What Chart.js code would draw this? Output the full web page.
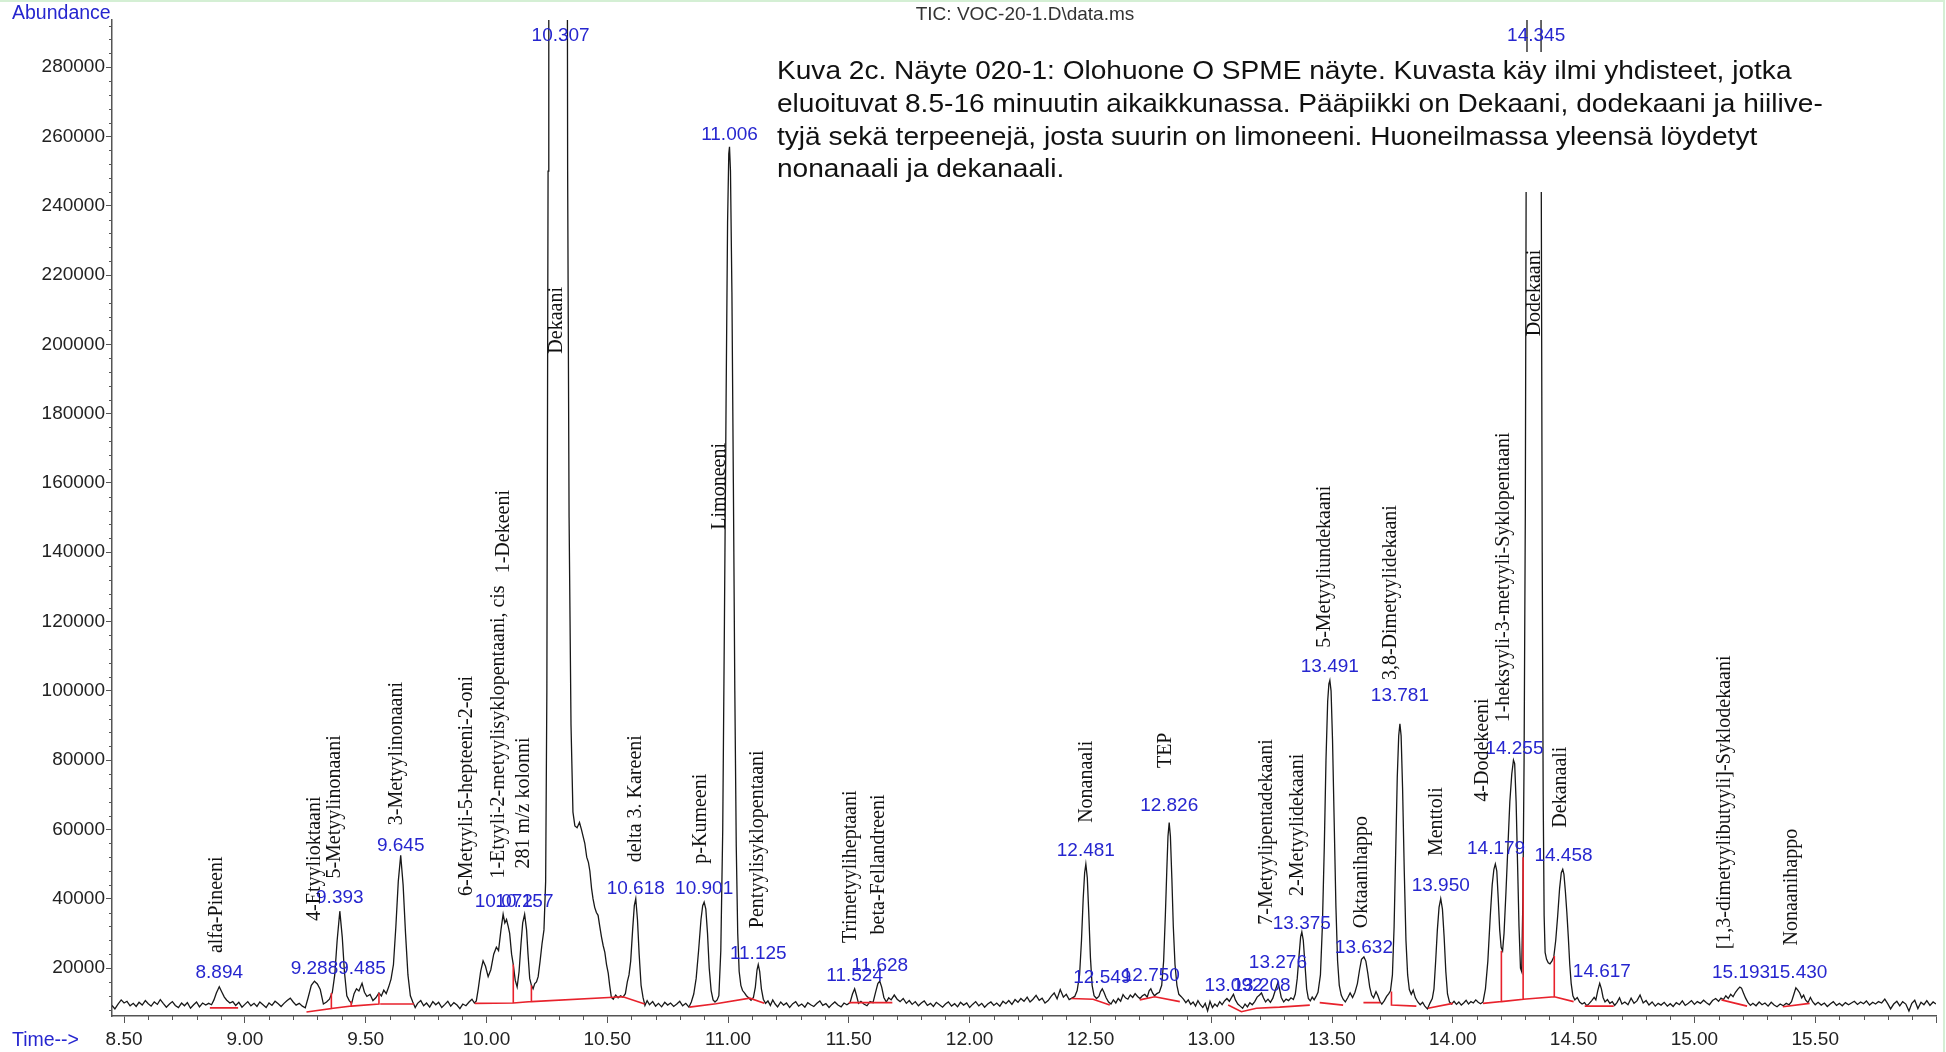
<!DOCTYPE html>
<html>
<head>
<meta charset="utf-8">
<script src="https://cdn.jsdelivr.net/npm/chart.js@4.4.1/dist/chart.umd.min.js"></script>
<style>
html, body { margin: 0; padding: 0; background: #fff; }
canvas { display: block; }
</style>
</head>
<body>
<canvas id="tic" width="1946" height="1052"></canvas>
<script>
// TIC trace, [time (min), abundance]
const tic_0845 = [
  [8.450,9200],[8.462,8200],[8.475,9600],[8.488,10800],[8.500,9900],[8.512,10400],[8.525,9100],[8.538,9800],
  [8.550,8900],[8.562,10100],[8.575,9300],[8.588,10600],[8.600,9700],[8.612,9000],[8.625,10200],[8.638,9500],
  [8.650,10900],[8.662,9800],[8.675,8700],[8.688,9600],[8.700,10300],[8.712,9200],[8.725,8600],[8.738,9900],
  [8.750,9100],[8.762,10000],[8.775,8400],[8.788,9400],[8.800,10200],[8.812,8800],[8.825,9900],[8.838,9300],
  [8.850,9800],[8.862,9400],[8.872,10800],[8.882,12800],[8.894,14600],[8.905,13000],[8.915,11600],[8.925,10700],
  [8.938,9900],[8.950,10300],[8.962,9200],[8.975,10100],[8.988,8700],[9.000,9500],[9.012,10300],[9.025,9100],
  [9.038,9800],[9.050,8900],[9.062,10200],[9.075,9400],[9.088,8600],[9.100,9900],[9.112,9200],[9.125,10400],
  [9.138,9700],[9.150,8900],[9.162,9800],[9.175,10600],[9.188,11300],[9.200,10200],[9.212,9300],[9.225,9800],
  [9.238,9000],[9.250,8500],[9.262,11500],[9.275,15000],[9.288,16200],[9.300,15400],[9.312,13800],[9.325,9600],
  [9.338,10200],[9.350,11000],[9.362,13000],[9.372,18000],[9.382,28000],[9.393,36400],[9.403,29000],[9.412,19000],
  [9.422,12000],[9.432,10600],[9.442,9800],[9.452,12600],[9.462,14000],[9.472,13400],[9.485,15600],[9.495,13000],
  [9.505,11800],[9.518,12400],[9.530,10600],[9.542,11400],[9.555,12800],[9.565,11900],[9.575,13600],[9.585,12600],
  [9.595,14500],[9.605,16800],[9.615,21000],[9.625,32000],[9.635,45000],[9.645,52500],[9.655,44000],[9.665,30000],
  [9.675,18000],[9.685,12000],[9.695,10200],[9.705,8600],[9.715,9800],[9.728,10600],[9.740,9100],[9.752,9900],
  [9.765,8700],[9.778,10300],[9.790,9400],[9.802,10100],[9.815,8600],[9.828,9500],[9.840,10400],[9.852,9000],
  [9.865,10000],[9.878,9300],[9.890,8300],[9.902,9600],[9.915,9100],[9.928,10200],[9.940,11000]
];
const tic_0950 = [
  [9.950,9900],[9.958,10500],[9.966,14000],[9.976,19000],[9.986,22100],[9.996,20500],[10.007,17500],[10.018,19500],
  [10.030,24000],[10.041,26000],[10.050,25000],[10.060,31000],[10.069,35500],[10.076,33000],[10.083,34000],[10.090,32000],
  [10.096,30000],[10.104,24000],[10.111,21000],[10.119,16500],[10.127,14500],[10.135,19000],[10.143,27000],[10.150,33000],
  [10.158,35500],[10.166,31000],[10.172,24000],[10.179,17000],[10.186,15000],[10.193,14000],[10.200,15500],[10.207,16000],
  [10.214,17500],[10.222,22000],[10.230,27000],[10.238,31000],[10.245,45000],[10.250,100000],[10.255,250000],[10.258,450000],
  [10.332,450000],[10.336,250000],[10.342,150000],[10.350,90000],[10.358,65000],[10.366,61000],[10.375,60500],[10.385,62000],
  [10.393,60000],[10.400,58000],[10.407,56000],[10.415,52000],[10.422,50500],[10.428,48000],[10.435,43000],[10.441,40000],
  [10.448,37500],[10.455,36000],[10.462,35200],[10.469,32000],[10.476,29000],[10.483,26500],[10.490,24500],[10.497,21000],
  [10.504,18500],[10.510,15000],[10.517,11500],[10.525,11000],[10.535,12200],[10.545,11400],[10.555,12000],[10.565,11600],
  [10.575,12600],[10.583,16000],[10.590,18000],[10.597,22000],[10.605,31000],[10.612,38000],[10.618,40000],[10.625,34000],
  [10.632,24000],[10.640,15000],[10.648,11500],[10.656,9200],[10.665,10600],[10.675,9400],[10.688,10300]
];
const tic_1070 = [
  [10.700,9000],[10.712,9800],[10.725,8800],[10.738,10100],[10.750,9300],[10.762,9900],[10.775,8900],[10.788,9600],
  [10.800,10400],[10.812,9100],[10.825,9800],[10.838,8700],[10.848,10200],[10.858,12500],[10.868,17000],[10.878,25000],
  [10.888,34000],[10.895,38000],[10.901,39000],[10.908,37000],[10.915,30000],[10.922,20000],[10.930,13500],[10.938,10800],
  [10.946,10200],[10.955,10800],[10.962,12000],[10.970,25000],[10.978,60000],[10.985,120000],[10.992,185000],[10.998,235000],
  [11.003,255000],[11.006,257000],[11.010,250000],[11.016,215000],[11.022,160000],[11.028,100000],[11.034,55000],[11.040,30000],
  [11.046,19000],[11.053,15000],[11.060,13500],[11.068,12800],[11.076,12000],[11.085,11400],[11.095,10700],[11.105,11500],
  [11.113,14500],[11.120,19500],[11.125,21000],[11.131,19000],[11.138,14000],[11.146,11000],[11.155,9800],[11.165,10500],
  [11.175,9200],[11.185,10800],[11.195,9600],[11.205,8800],[11.218,10200],[11.230,9300],[11.242,9900],[11.255,8600],
  [11.268,9700],[11.280,10300],[11.292,9000],[11.305,9600],[11.318,8700],[11.330,10000],[11.342,9400],[11.355,8900],
  [11.368,9800],[11.380,10500],[11.392,9200],[11.405,9700],[11.418,8600],[11.430,9500],[11.442,10200],[11.455,9300],
  [11.468,8800],[11.480,9900],[11.492,9400],[11.505,10000],[11.515,12500],[11.524,14000],[11.532,12000],[11.540,9800],
  [11.550,10400],[11.562,9600],[11.575,9100],[11.588,10300],[11.600,10000],[11.610,12800],[11.620,15500],[11.628,16200],
  [11.636,14500],[11.645,11500],[11.655,10200],[11.665,11400],[11.675,10800],[11.688,12200],[11.700,11000],[11.712,10300],
  [11.725,11200],[11.738,9800],[11.750,10600],[11.762,9500],[11.775,10300],[11.788,9100],[11.800,9900],[11.812,10500],
  [11.825,9200],[11.838,9800],[11.850,8900],[11.862,10100],[11.875,9400],[11.888,8700],[11.900,9600],[11.912,10200],
  [11.925,9000],[11.938,9700],[11.950,8800],[11.962,10100],[11.975,9300],[11.988,9900]
];
const tic_1200 = [
  [12.000,8600],[12.012,9500],[12.025,10300],[12.038,9100],[12.050,9800],[12.062,8700],[12.075,9600],[12.088,10200],
  [12.100,9200],[12.112,9900],[12.125,9000],[12.138,10400],[12.150,9700],[12.162,10600],[12.175,9500],[12.188,10900],
  [12.200,10100],[12.212,11200],[12.225,10400],[12.238,11600],[12.250,10200],[12.262,11000],[12.275,12100],[12.288,10700],
  [12.300,11300],[12.312,9900],[12.325,10600],[12.338,11900],[12.350,12800],[12.362,11100],[12.375,13800],[12.388,11600],
  [12.400,12400],[12.412,10900],[12.425,11400],[12.435,11800],[12.445,13500],[12.455,18000],[12.463,28000],[12.470,40000],
  [12.476,47500],[12.481,50000],[12.487,46000],[12.493,36000],[12.500,23000],[12.507,15000],[12.515,12000],[12.525,11200],
  [12.535,11800],[12.542,13200],[12.549,14000],[12.556,13000],[12.565,11400],[12.575,10200],[12.585,9600],[12.595,10800],
  [12.605,9900],[12.615,11200],[12.625,10400],[12.635,12300],[12.645,11400],[12.655,11000],[12.665,12200],[12.675,11500],
  [12.685,12600],[12.695,11800],[12.705,11200],[12.715,12000],[12.725,12400],[12.735,11600],[12.743,13400],[12.750,14000],
  [12.757,12800],[12.765,12000],[12.775,12600],[12.785,13000],[12.795,15000],[12.803,22000],[12.810,35000],[12.816,48000],
  [12.821,58000],[12.826,62000],[12.831,58000],[12.837,46000],[12.843,32000],[12.850,21000],[12.858,15000],[12.866,12400],
  [12.875,11800],[12.885,11000],[12.895,10000],[12.905,10800],[12.915,9500],[12.925,10200],[12.935,9000],[12.945,10600],
  [12.955,9400],[12.965,8600],[12.975,9800],[12.985,7600],[12.995,10400],[13.005,8600],[13.015,9600],[13.025,8900],
  [13.035,10300],[13.045,9400],[13.055,10500],[13.065,11200],[13.075,10400],[13.085,11600],[13.092,12400],[13.100,10800],
  [13.110,9600],[13.120,9000],[13.130,8400],[13.140,9600],[13.150,8800],[13.160,10000],[13.170,9400],[13.180,10300],
  [13.190,11600],[13.200,12200],[13.208,12800],[13.216,11400],[13.225,10200],[13.235,11000],[13.245,10100],[13.255,11300],
  [13.265,13500],[13.272,15000],[13.276,15800],[13.282,14200],[13.290,11500],[13.300,10200],[13.310,11000],[13.320,10600],
  [13.330,11400]
];
const tic_1340 = [
  [13.340,10900],[13.348,12500],[13.356,17000],[13.364,24000],[13.370,29000],[13.375,30400],[13.381,28000],[13.388,21000],
  [13.395,14000],[13.402,11200],[13.410,10500],[13.418,11600],[13.426,10800],[13.434,11800],[13.442,13000],[13.452,18000],
  [13.460,32000],[13.468,55000],[13.475,80000],[13.482,97000],[13.487,102000],[13.491,103000],[13.496,100000],[13.502,86000],
  [13.509,62000],[13.516,38000],[13.523,22000],[13.530,15000],[13.538,12200],[13.546,11000],[13.555,10200],[13.565,11400],
  [13.575,12800],[13.585,11500],[13.595,13000],[13.605,15500],[13.614,19500],[13.622,22500],[13.632,23200],[13.640,22000],
  [13.648,18500],[13.656,14500],[13.664,12200],[13.672,11400],[13.682,13200],[13.690,12000],[13.698,10400],[13.706,9600],
  [13.716,10500],[13.726,11800],[13.735,12600],[13.742,13400],[13.750,18000],[13.757,32000],[13.764,55000],[13.770,75000],
  [13.776,87000],[13.781,90500],[13.786,87000],[13.792,72000],[13.799,48000],[13.806,28000],[13.813,18000],[13.820,13800],
  [13.828,12400],[13.836,13600],[13.845,11400],[13.855,10200],[13.865,9400],[13.875,10100],[13.885,8900],[13.895,8200],
  [13.905,9800],[13.915,11200],[13.922,14000],[13.929,22000],[13.936,31000],[13.943,37500],[13.950,40000],[13.957,37000],
  [13.964,29000],[13.971,19000],[13.978,12500],[13.986,10200],[13.995,9600],[14.005,10400],[14.015,9500],[14.025,10200],
  [14.035,9300],[14.045,9900],[14.055,10700],[14.065,9600],[14.075,10300],[14.085,9900],[14.095,10800],[14.105,10100],
  [14.115,9700],[14.125,10200],[14.135,14000],[14.145,22000],[14.155,35000],[14.163,44000],[14.170,48500],[14.176,50000],
  [14.182,48000],[14.188,40000],[14.194,31000],[14.200,26000],[14.206,25000],[14.212,30000],[14.220,42000],[14.228,55000],
  [14.236,68000],[14.244,76000],[14.251,80000],[14.256,79000],[14.262,68000],[14.268,50000],[14.274,32000],[14.280,20000],
  [14.285,19000],[14.290,40000],[14.295,80000],[14.300,150000],[14.304,260000],[14.307,450000],
  [14.362,450000],[14.366,250000],[14.370,140000],[14.374,70000],[14.378,35000],[14.382,24500],[14.388,22500],[14.395,21500],
  [14.402,21200],[14.410,22000],[14.418,23200],[14.426,28000],[14.434,35000],[14.442,43000],[14.449,47500],[14.455,48500],
  [14.460,47000],[14.466,42000],[14.472,36000],[14.478,29000],[14.484,21000],[14.490,15500],[14.497,12000]
];
const tic_1450 = [
  [14.505,10800],[14.515,11500],[14.525,10200],[14.535,9600],[14.545,10000],[14.555,9100],[14.565,9800],[14.575,10600],
  [14.585,11500],[14.592,10800],[14.600,13500],[14.608,15600],[14.615,14000],[14.622,11500],[14.630,10200],[14.640,10900],
  [14.650,9800],[14.660,10300],[14.670,9200],[14.680,10100],[14.690,11400],[14.700,9600],[14.712,10200],[14.725,9400],
  [14.738,11300],[14.750,9800],[14.762,10500],[14.775,12200],[14.788,9900],[14.800,10600],[14.812,9300],[14.825,10200],
  [14.838,9000],[14.850,9800],[14.862,9300],[14.875,10100],[14.888,9000],[14.900,9700],[14.912,8900],[14.925,10000],
  [14.938,9400],[14.950,10500],[14.962,9200],[14.975,9800],[14.988,10600],[15.000,9500],[15.012,10300],[15.025,9800],
  [15.038,10700],[15.050,10000],[15.062,9400],[15.075,10600],[15.088,11200],[15.100,10400],[15.110,11300],[15.120,10900],
  [15.130,12000],[15.140,11200],[15.150,12400],[15.160,11700],[15.170,13000],[15.180,13900],[15.188,14500],[15.195,14200],
  [15.203,12800],[15.212,11300],[15.222,10000],[15.232,9200],[15.242,9800],[15.255,9100],[15.268,10200],[15.280,9400],
  [15.292,9900],[15.305,9000],[15.318,10100],[15.330,9300],[15.342,8800],[15.355,9600],[15.368,9100],[15.380,9800],
  [15.392,9400],[15.402,10300],[15.412,12500],[15.420,14300],[15.428,13600],[15.436,12800],[15.444,11400],[15.452,12200],
  [15.460,10800],[15.470,10000],[15.480,11500],[15.490,10200],[15.500,9400],[15.512,10100],[15.525,9300],[15.538,9900],
  [15.550,8900],[15.562,9600],[15.575,10300],[15.588,9200],[15.600,9800],[15.612,9100],[15.625,10000],[15.638,9400],
  [15.650,9900],[15.662,10400],[15.675,9500],[15.688,10200],[15.700,9700],[15.712,10500],[15.725,9300],[15.738,10100],
  [15.750,9600],[15.762,10300],[15.775,9900],[15.788,11000],[15.800,9700],[15.812,8200],[15.825,9600],[15.838,10400],
  [15.850,9100],[15.862,10300],[15.875,9600],[15.888,7600],[15.900,9800],[15.912,10700],[15.925,8300],[15.938,10100],
  [15.950,9400],[15.962,10600],[15.975,9200],[15.988,10200],[16.000,9600]
];

// red integration baselines and drop lines, [time, abundance]; null breaks the line
const baselineMarks = [
  [8.855,8500],[8.972,8500],[8.972,null],
  [9.255,7300],[9.358,8300],[9.358,12800],[9.358,null],
  [9.358,8300],[9.440,9000],[9.440,10400],[9.440,null],
  [9.440,9000],[9.555,9600],[9.555,12800],[9.555,null],
  [9.560,9600],[9.700,9600],[9.700,null],
  [9.952,9800],[10.111,9900],[10.111,21000],[10.111,null],
  [10.111,9900],[10.186,10300],[10.186,15000],[10.186,null],
  [10.186,10300],[10.565,11700],[10.655,9600],[10.655,null],
  [10.840,8700],[10.950,9700],[11.090,11300],[11.150,9800],[11.150,null],
  [11.500,10000],[11.680,10000],[11.680,null],
  [12.421,11200],[12.511,11000],[12.580,9300],[12.580,null],
  [12.704,10800],[12.766,11700],[12.870,10300],[12.870,null],
  [13.070,9300],[13.125,7400],[13.187,8400],[13.283,8700],[13.408,9300],[13.408,null],
  [13.449,10000],[13.546,9300],[13.546,null],
  [13.630,10000],[13.700,10000],[13.700,null],
  [13.746,13200],[13.746,9300],[13.849,9000],[13.849,null],
  [13.897,8400],[14.000,9800],[14.000,null],
  [14.125,9800],[14.201,10300],[14.201,25000],[14.201,null],
  [14.201,10300],[14.291,11000],[14.291,52000],[14.291,null],
  [14.291,11000],[14.420,11700],[14.420,23500],[14.420,null],
  [14.420,11700],[14.500,10300],[14.500,null],
  [14.546,9000],[14.666,9000],[14.666,null],
  [15.112,10800],[15.218,9000],[15.218,null],
  [15.366,8800],[15.477,9800]
];

// axis tick labels
const yTicks = [20000,40000,60000,80000,100000,120000,140000,160000,180000,200000,220000,240000,260000,280000];
const xTicks = [8.5,9.0,9.5,10.0,10.5,11.0,11.5,12.0,12.5,13.0,13.5,14.0,14.5,15.0,15.5,16.0];

// retention time labels and the abundance they sit at
const rtLabels = ['8.894','9.288','9.393','9.485','9.645','10.072','10.157','10.307','10.618','10.901','11.006','11.125',
  '11.524','11.628','12.481','12.549','12.750','12.826','13.092','13.208','13.276','13.375','13.491','13.632','13.781',
  '13.950','14.179','14.255','14.345','14.458','14.617','15.193','15.430'];
const rtLabelLevel = [18600,19700,40400,19700,55400,39000,39000,289000,42900,42900,260400,24000,
  17900,20700,53700,17200,17900,66900,15000,15000,21500,32900,107000,25800,98700,
  43600,54400,83400,289000,52300,19000,18600,18600];

// compound names, their time and the abundance where the rotated text starts
const compounds = ['alfa-Pineeni','4-Etyylioktaani','5-Metyylinonaani','3-Metyylinonaani','6-Metyyli-5-hepteeni-2-oni',
  '1-Etyyli-2-metyylisyklopentaani, cis','1-Dekeeni','281 m/z kolonni','Dekaani','delta 3. Kareeni','p-Kumeeni',
  'Limoneeni','Pentyylisyklopentaani','Trimetyyliheptaani','beta-Fellandreeni','Nonanaali','TEP',
  '7-Metyylipentadekaani','2-Metyylidekaani','5-Metyyliundekaani','Oktaanihappo','3,8-Dimetyylidekaani','Menttoli',
  '4-Dodekeeni','1-heksyyli-3-metyyli-Syklopentaani','Dodekaani','Dekanaali','[1,3-dimetyylibutyyli]-Syklodekaani',
  'Nonaanihappo'];
const compoundTime = [8.884,9.290,9.372,9.629,9.917,10.050,10.071,10.153,10.292,10.616,10.887,10.964,11.124,11.509,
  11.622,12.484,12.813,13.229,13.357,13.470,13.624,13.743,13.933,14.123,14.210,14.339,14.447,15.125,15.402];
const compoundLevel = [24300,33600,45800,61200,40800,45800,133900,48700,197300,50500,50100,146500,31500,27200,
  29700,61900,77700,32500,40800,112400,31500,103100,52300,68000,90900,202300,60500,25400,26500];

const noteLines = [
  'Kuva 2c. Näyte 020-1: Olohuone O SPME näyte. Kuvasta käy ilmi yhdisteet, jotka',
  'eluoituvat 8.5-16 minuutin aikaikkunassa. Pääpiikki on Dekaani, dodekaani ja hiilive-',
  'tyjä sekä terpeenejä, josta suurin on limoneeni. Huoneilmassa yleensä löydetyt',
  'nonanaali ja dekanaali.'
];

const trace = [].concat(tic_0845, tic_0950, tic_1070, tic_1200, tic_1340, tic_1450);

const SANS = '"Liberation Sans", Arial, sans-serif';
const SERIF = '"Liberation Serif", "Times New Roman", serif';
const BLUE = '#2626cf';

const decor = {
  id: 'decor',
  afterDraw(chart) {
    const ctx = chart.ctx;
    const xs = chart.scales.x, ys = chart.scales.y;
    const area = chart.chartArea;
    ctx.save();

    // minor ticks
    ctx.strokeStyle = '#555';
    ctx.lineWidth = 1;
    ctx.beginPath();
    for (let k = 85; k <= 160; k++) {
      if (k % 5 === 0) continue;
      const px = Math.round(xs.getPixelForValue(k / 10)) + 0.5;
      ctx.moveTo(px, area.bottom);
      ctx.lineTo(px, area.bottom + 4);
    }
    for (let v = 8000; v < 294000; v += 4000) {
      if (v % 20000 === 0) continue;
      const py = Math.round(ys.getPixelForValue(v)) + 0.5;
      ctx.moveTo(area.left, py);
      ctx.lineTo(area.left - 3, py);
    }
    ctx.stroke();

    // axis captions and header
    ctx.fillStyle = BLUE;
    ctx.font = '19.5px ' + SANS;
    ctx.textAlign = 'left';
    ctx.textBaseline = 'middle';
    ctx.fillText('Abundance', 12, 14);
    ctx.fillText('Time-->', 12, 1041);
    ctx.fillStyle = '#333';
    ctx.textAlign = 'center';
    ctx.font = '19px ' + SANS;
    ctx.fillText('TIC: VOC-20-1.D\\data.ms', 1025, 15);

    // caption box over the plot
    ctx.fillStyle = '#fff';
    ctx.fillRect(768, 52, 1070, 140);
    ctx.fillStyle = '#111';
    ctx.textAlign = 'left';
    ctx.font = '26px ' + SANS;
    noteLines.forEach((line, i) => {
      ctx.save();
      ctx.translate(777, 72 + i * 32.7);
      ctx.scale(1.08, 1);
      ctx.fillText(line, 0, 0);
      ctx.restore();
    });

    // retention time labels
    ctx.fillStyle = BLUE;
    ctx.font = '19px ' + SANS;
    ctx.textAlign = 'center';
    rtLabels.forEach((lab, i) => {
      ctx.fillText(lab, xs.getPixelForValue(parseFloat(lab)), ys.getPixelForValue(rtLabelLevel[i]));
    });

    // compound names, rotated
    ctx.fillStyle = '#111';
    ctx.font = '20px ' + SERIF;
    ctx.textAlign = 'left';
    compounds.forEach((name, i) => {
      ctx.save();
      ctx.translate(xs.getPixelForValue(compoundTime[i]), ys.getPixelForValue(compoundLevel[i]));
      ctx.rotate(-Math.PI / 2);
      ctx.fillText(name, 0, 0);
      ctx.restore();
    });

    // faint frame
    ctx.strokeStyle = '#d4efd4';
    ctx.lineWidth = 2;
    ctx.beginPath();
    ctx.moveTo(0, 1);
    ctx.lineTo(1944, 1);
    ctx.lineTo(1944, 1052);
    ctx.stroke();
    ctx.restore();
  }
};

const ctx = document.getElementById('tic').getContext('2d');
const chart = new Chart(ctx, {
  type: 'line',
  data: {
    datasets: [{
      data: baselineMarks,
      borderColor: '#e8222c',
      borderWidth: 1.6,
      pointRadius: 0,
      spanGaps: false,
      tension: 0
    }, {
      data: trace,
      borderColor: '#181818',
      borderWidth: 1.3,
      pointRadius: 0,
      tension: 0
    }]
  },
  options: {
    responsive: false,
    animation: false,
    devicePixelRatio: 1,
    layout: { padding: { top: 20, right: 10, left: 0, bottom: 0 } },
    plugins: { legend: { display: false }, tooltip: { enabled: false } },
    scales: {
      x: {
        type: 'linear',
        min: 8.45,
        max: 16.0,
        afterFit: (s) => { s.height = 36; },
        afterBuildTicks: (s) => { s.ticks = xTicks.map((v) => ({ value: v })); },
        border: { color: '#555', width: 1.5 },
        grid: { drawOnChartArea: false, drawTicks: true, tickLength: 7, color: '#555' },
        ticks: {
          autoSkip: false,
          maxRotation: 0,
          padding: 5,
          color: '#222',
          font: { family: SANS, size: 19 },
          callback: (v) => v > 15.9 ? '' : v.toFixed(2)
        }
      },
      y: {
        type: 'linear',
        min: 6150,
        max: 293600,
        afterFit: (s) => { s.width = 112; },
        afterBuildTicks: (s) => { s.ticks = yTicks.map((v) => ({ value: v })); },
        border: { color: '#555', width: 1.5 },
        grid: { drawOnChartArea: false, drawTicks: true, tickLength: 6, color: '#555' },
        ticks: {
          autoSkip: false,
          padding: 1,
          color: '#222',
          font: { family: SANS, size: 19 },
          callback: (v) => String(v)
        }
      }
    }
  },
  plugins: [decor]
});
</script>
</body>
</html>
